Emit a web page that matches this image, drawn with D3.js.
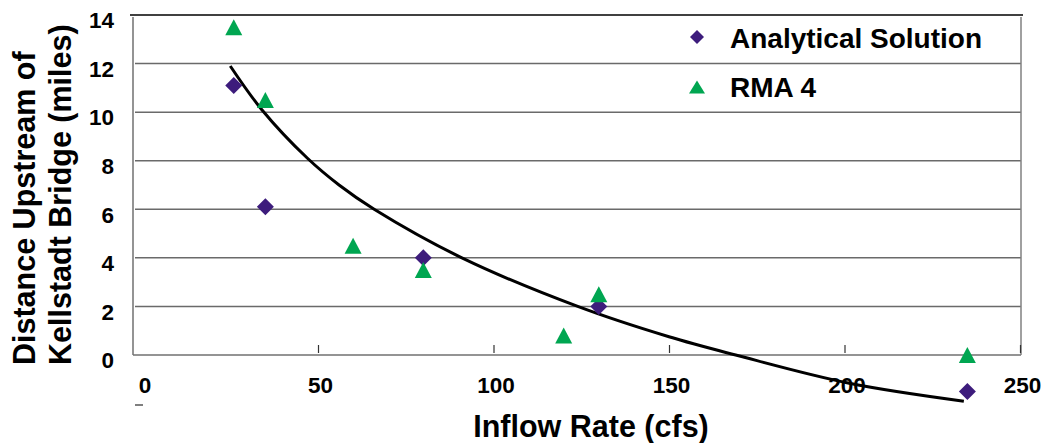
<!DOCTYPE html>
<html>
<head>
<meta charset="utf-8">
<script src="https://cdn.jsdelivr.net/npm/d3@7"></script>
<style>
  body { margin: 0; background: #fff; }
  svg { display: block; font-family: "Liberation Sans", Arial, sans-serif; font-weight: bold; }
</style>
</head>
<body>
<svg></svg>
<script>
const analyticalX = [26, 35, 80, 130, 235]
const analyticalY = [11.1, 6.1, 4.0, 2.0, -1.5]

const rmaX = [26, 35, 60, 80, 120, 130, 235]
const rmaY = [13.5, 10.5, 4.5, 3.5, 0.8, 2.5, 0.0]

// trend curve
const trendX = [25, 34, 47, 56, 66, 91, 124, 150, 169, 201, 234]
const trendY = [11.9, 10.1, 8.1, 7.0, 6.0, 4.0, 2.0, 0.75, 0.0, -1.15, -1.9]

const xTicks = [0, 50, 100, 150, 200, 250]
const yTicks = [0, 2, 4, 6, 8, 10, 12, 14]
const seriesNames = ["Analytical Solution", "RMA 4"]

const w = 1049
const h = 443
const plotLeft = 133
const plotRight = 1021
const plotTop = 15
const plotBottom = 355

const purple = "#3d1c7c"
const green = "#00a651"

let svg = d3.select("svg").attr("width", w).attr("height", h)

let xScale = d3.scaleLinear().domain([0, 250]).range([142.5, 1020])
let yScale = d3.scaleLinear().domain([0, 14]).range([plotBottom, plotTop])

let diamond = (cx, cy, r) =>
  `M${cx},${cy - r}L${cx + r},${cy}L${cx},${cy + r}L${cx - r},${cy}Z`
let triangle = (cx, cy, hw, hh) =>
  `M${cx},${cy - hh}L${cx + hw},${cy + hh}L${cx - hw},${cy + hh}Z`

let drawGrid = () => {
  svg.append("g")
    .selectAll("line")
    .data(yTicks.filter(d => d > 0 && d < 14))
    .enter()
    .append("line")
    .attr("x1", plotLeft + 2)
    .attr("x2", plotRight)
    .attr("y1", d => yScale(d))
    .attr("y2", d => yScale(d))
    .attr("stroke", "#6a6a6a")
    .attr("stroke-width", 1.5)

  // frame: black top, grey sides and bottom
  svg.append("line").attr("x1", plotLeft).attr("x2", plotRight).attr("y1", plotBottom).attr("y2", plotBottom)
    .attr("stroke", "#707070").attr("stroke-width", 1.5)
  svg.append("line").attr("x1", plotLeft).attr("x2", plotLeft).attr("y1", plotTop + 2).attr("y2", plotBottom)
    .attr("stroke", "#707070").attr("stroke-width", 1.5)
  svg.append("line").attr("x1", plotRight).attr("x2", plotRight).attr("y1", plotTop + 2).attr("y2", plotBottom)
    .attr("stroke", "#808080").attr("stroke-width", 1.5)
  svg.append("line").attr("x1", plotLeft - 3).attr("x2", plotRight + 2).attr("y1", plotTop).attr("y2", plotTop)
    .attr("stroke", "#000").attr("stroke-width", 1.5)
}

let drawAxes = () => {
  let yAxis = d3.axisLeft(yScale).tickValues(yTicks).tickSize(0).tickPadding(19)
  let gy = svg.append("g").attr("transform", `translate(${plotLeft},0)`).call(yAxis)
  gy.select(".domain").remove()
  gy.attr("font-family", null).attr("font-size", null)
  gy.selectAll("text")
    .attr("font-size", 22.5)
    .attr("font-weight", "bold")
    .attr("fill", "#000")
    .attr("dy", "0.57em")

  let xAxis = d3.axisBottom(xScale).tickValues(xTicks).tickSize(-8).tickPadding(24)
  let gx = svg.append("g").attr("transform", `translate(0,${plotBottom - 2})`).call(xAxis)
  gx.select(".domain").remove()
  gx.attr("font-family", null).attr("font-size", null)
  gx.selectAll(".tick line")
    .attr("stroke", "#333")
    .attr("stroke-width", 1.2)
    .attr("opacity", d => d === 0 ? 0 : 1)
  gx.selectAll("text")
    .attr("font-size", 22.5)
    .attr("font-weight", "bold")
    .attr("fill", "#000")
    .attr("dx", 2)

  // stray little dash under the 0 label
  svg.append("line").attr("x1", 135).attr("x2", 143).attr("y1", 405).attr("y2", 405)
    .attr("stroke", "#555").attr("stroke-width", 1.5)

  svg.append("text")
    .attr("x", 591)
    .attr("y", 437)
    .attr("text-anchor", "middle")
    .attr("font-size", 30.5)
    .text("Inflow Rate (cfs)")

  svg.append("text")
    .attr("transform", "translate(35,365) rotate(-90)")
    .attr("font-size", 30.5)
    .text("Distance Upstream of")
  svg.append("text")
    .attr("transform", "translate(71,365) rotate(-90)")
    .attr("font-size", 30.5)
    .text("Kellstadt Bridge (miles)")
}

let drawTrend = () => {
  let pts = trendX.map((x, i) => [x, trendY[i]])
  let line = d3.line()
    .x(d => xScale(d[0]))
    .y(d => yScale(d[1]))
    .curve(d3.curveCatmullRom.alpha(0.5))
  svg.append("path")
    .attr("d", line(pts))
    .attr("fill", "none")
    .attr("stroke", "#000")
    .attr("stroke-width", 3)
}

let drawPoints = () => {
  svg.append("g")
    .selectAll("path")
    .data(analyticalX.map((x, i) => [x, analyticalY[i]]))
    .enter()
    .append("path")
    .attr("d", d => diamond(xScale(d[0]), yScale(d[1]), 8.5))
    .attr("fill", purple)

  svg.append("g")
    .selectAll("path")
    .data(rmaX.map((x, i) => [x, rmaY[i]]))
    .enter()
    .append("path")
    .attr("d", d => triangle(xScale(d[0]), yScale(d[1]), 8.5, 8))
    .attr("fill", green)
}

let drawLegend = () => {
  svg.append("path").attr("d", diamond(697, 37, 7)).attr("fill", purple)
  svg.append("path").attr("d", triangle(697, 87, 8, 6.5)).attr("fill", green)
  svg.selectAll(".legend-text")
    .data(seriesNames)
    .enter()
    .append("text")
    .attr("class", "legend-text")
    .attr("x", 730)
    .attr("y", (d, i) => 48 + i * 49)
    .attr("font-size", 28)
    .text(d => d)
}

drawGrid()
drawAxes()
drawTrend()
drawPoints()
drawLegend()
</script>
</body>
</html>
